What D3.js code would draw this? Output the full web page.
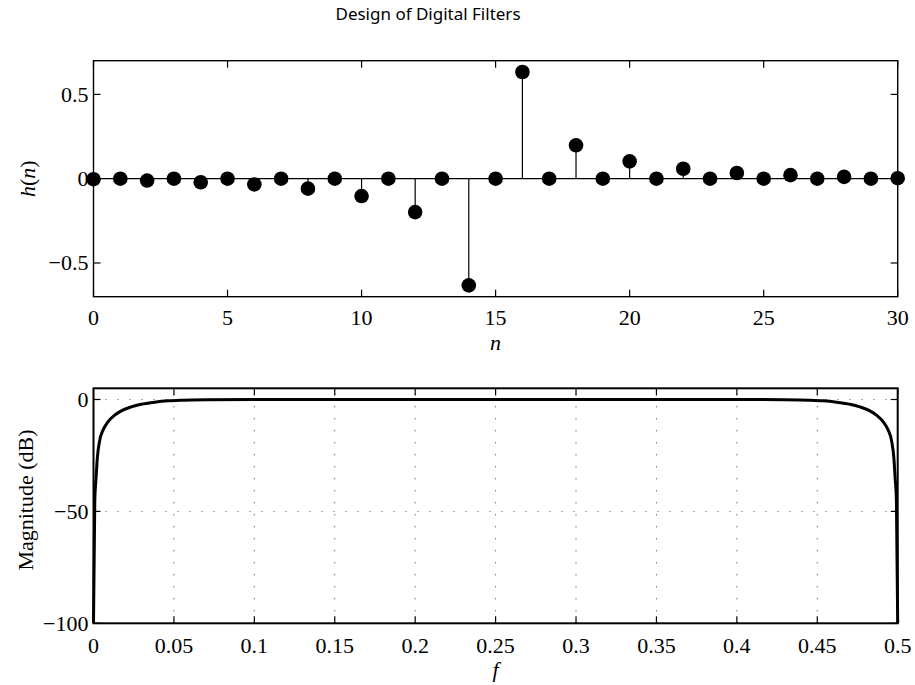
<!DOCTYPE html>
<html>
<head>
<meta charset="utf-8">
<script src="https://cdn.jsdelivr.net/npm/d3@7"></script>
<style>
  html, body { margin: 0; padding: 0; background: #fff; }
  svg { display: block; }
</style>
</head>
<body>
<svg id="chart" width="915" height="685"></svg>
<script>
// ---------- data ----------
const chartTitle = "Design of Digital Filters";

// impulse response h(n), n = 0..30
const nValues = [0,1,2,3,4,5,6,7,8,9,10,11,12,13,14,15,16,17,18,19,20,21,22,23,24,25,26,27,28,29,30];
const hValues = [-0.003,0,-0.011,0,-0.021,0,-0.034,0,-0.059,0,-0.103,0,-0.198,0,-0.633,0,
                  0.633,0,0.198,0,0.103,0,0.059,0,0.034,0,0.021,0,0.011,0,0.003];
const nTicks = [0,5,10,15,20,25,30];
const nTickLabels = ["0","5","10","15","20","25","30"];
const hTicks = [-0.5,0,0.5];
const hTickLabels = ["\u22120.5","0","0.5"];

// magnitude response (dB) vs normalized frequency f
const freqValues = [0,0.0008,0.0016,0.0024,0.0038,0.0059,0.009,0.0132,0.0173,0.0235,0.0297,0.038,0.0463,0.055,0.07,0.1,0.25,
                    0.4,0.43,0.445,0.4537,0.462,0.4703,0.4765,0.4827,0.4868,0.491,0.4941,0.4962,0.4976,0.4984,0.4992,0.5];
const magValues = [-100,-45,-35,-26,-18.5,-13.7,-10,-7,-5.1,-3.3,-2.1,-1.2,-0.6,-0.3,-0.1,0,0,
                   0,-0.1,-0.3,-0.6,-1.2,-2.1,-3.3,-5.1,-7,-10,-13.7,-18.5,-26,-35,-45,-100];
const fTicks = [0,0.05,0.1,0.15,0.2,0.25,0.3,0.35,0.4,0.45,0.5];
const fTickLabels = ["0","0.05","0.1","0.15","0.2","0.25","0.3","0.35","0.4","0.45","0.5"];
const dbTicks = [-100,-50,0];
const dbTickLabels = ["\u2212100","\u221250","0"];

// ---------- layout ----------
const SERIF = "'Liberation Serif', 'Times New Roman', 'DejaVu Serif', serif";
const SANS = "'Noto Sans', 'Open Sans', sans-serif";
const svg = d3.select("#chart");
const L = 93.5, R = 897.7;
const top1 = 60.7, bot1 = 296.7;
const top2 = 388.3, bot2 = 623.3;
const tickLen = 7;

svg.append("text")
  .attr("font-family", SANS).attr("font-size", 17).attr("fill", "#000")
  .attr("x", 428).attr("y", 20).attr("text-anchor","middle").text(chartTitle);

// ---------- top: stem plot ----------
const x1 = d3.scaleLinear().domain([0,30]).range([L,R]);
const y1 = d3.scaleLinear().domain([-0.7,0.7]).range([bot1,top1]);
const g1 = svg.append("g");

// baseline
g1.append("line")
  .attr("x1", x1(0)).attr("x2", x1(30))
  .attr("y1", y1(0)).attr("y2", y1(0))
  .attr("stroke","#000").attr("stroke-width",1.2);

// stems
g1.selectAll("line.stem").data(nValues).enter().append("line").attr("class","stem")
  .attr("x1", d => x1(d)).attr("x2", d => x1(d))
  .attr("y1", y1(0)).attr("y2", (d,i) => y1(hValues[i]))
  .attr("stroke","#000").attr("stroke-width",1.2);

// markers
g1.selectAll("circle").data(nValues).enter().append("circle")
  .attr("cx", d => x1(d)).attr("cy", (d,i) => y1(hValues[i]))
  .attr("r", 7.3).attr("fill","#000");

function drawFrame(g, xs, ys, xt, xtl, yt, ytl, top, bot, sw, xLabY) {
  xt.forEach(v => {
    g.append("line").attr("x1", xs(v)).attr("x2", xs(v)).attr("y1", bot).attr("y2", bot - tickLen)
      .attr("stroke","#000").attr("stroke-width",1.2);
    g.append("line").attr("x1", xs(v)).attr("x2", xs(v)).attr("y1", top).attr("y2", top + tickLen)
      .attr("stroke","#000").attr("stroke-width",1.2);
  });
  yt.forEach(v => {
    g.append("line").attr("x1", L).attr("x2", L + tickLen).attr("y1", ys(v)).attr("y2", ys(v))
      .attr("stroke","#000").attr("stroke-width",1.2);
    g.append("line").attr("x1", R).attr("x2", R - tickLen).attr("y1", ys(v)).attr("y2", ys(v))
      .attr("stroke","#000").attr("stroke-width",1.2);
  });
  g.append("rect").attr("x", L).attr("y", top).attr("width", R - L).attr("height", bot - top)
    .attr("fill","none").attr("stroke","#000").attr("stroke-width", sw);
  xt.forEach((v,i) => {
    g.append("text").attr("font-family", SERIF).attr("font-size", 22).attr("fill","#000")
      .attr("x", xs(v)).attr("y", xLabY)
      .attr("text-anchor","middle").text(xtl[i]);
  });
  yt.forEach((v,i) => {
    g.append("text").attr("font-family", SERIF).attr("font-size", 22).attr("fill","#000")
      .attr("x", L - 5).attr("y", ys(v)).attr("dy","0.34em")
      .attr("text-anchor","end").text(ytl[i]);
  });
}

drawFrame(g1, x1, y1, nTicks, nTickLabels, hTicks, hTickLabels, top1, bot1, 1.4, 325);

g1.append("text").attr("font-family", SERIF).attr("font-size", 22)
  .attr("x", (L+R)/2).attr("y", 350)
  .attr("text-anchor","middle").attr("font-style","italic").text("n");
g1.append("text").attr("font-family", SERIF).attr("font-size", 22)
  .attr("transform", `translate(35,${y1(0)}) rotate(-90)`)
  .attr("text-anchor","middle")
  .html('<tspan font-style="italic">h</tspan>(<tspan font-style="italic">n</tspan>)');

// ---------- bottom: magnitude response ----------
const x2 = d3.scaleLinear().domain([0,0.5]).range([L,R]);
const y2 = d3.scaleLinear().domain([-100,5]).range([bot2,top2]);
const g2 = svg.append("g");

// grid
fTicks.slice(1,-1).forEach(v => {
  g2.append("line").attr("x1", x2(v)).attr("x2", x2(v)).attr("y1", bot2).attr("y2", top2)
    .attr("stroke","#333").attr("stroke-width",1).attr("stroke-dasharray","1,11");
});
[-50,0].forEach(v => {
  g2.append("line").attr("x1", L).attr("x2", R).attr("y1", y2(v)).attr("y2", y2(v))
    .attr("stroke","#555").attr("stroke-width",1).attr("stroke-dasharray","1,11");
});

const pts = freqValues.map((f,i) => [f, magValues[i]]);
g2.append("path").datum(pts)
  .attr("d", d3.line().x(d => x2(d[0])).y(d => y2(d[1])).curve(d3.curveMonotoneX))
  .attr("fill","none").attr("stroke","#000").attr("stroke-width",3);

drawFrame(g2, x2, y2, fTicks, fTickLabels, dbTicks, dbTickLabels, top2, bot2, 2, 653);

g2.append("text").attr("font-family", SERIF).attr("font-size", 22)
  .attr("x", (L+R)/2).attr("y", 677)
  .attr("text-anchor","middle").attr("font-style","italic").text("f");
g2.append("text").attr("font-family", SERIF).attr("font-size", 22)
  .attr("transform", `translate(33,500) rotate(-90)`)
  .attr("text-anchor","middle").text("Magnitude (dB)");
</script>
</body>
</html>
